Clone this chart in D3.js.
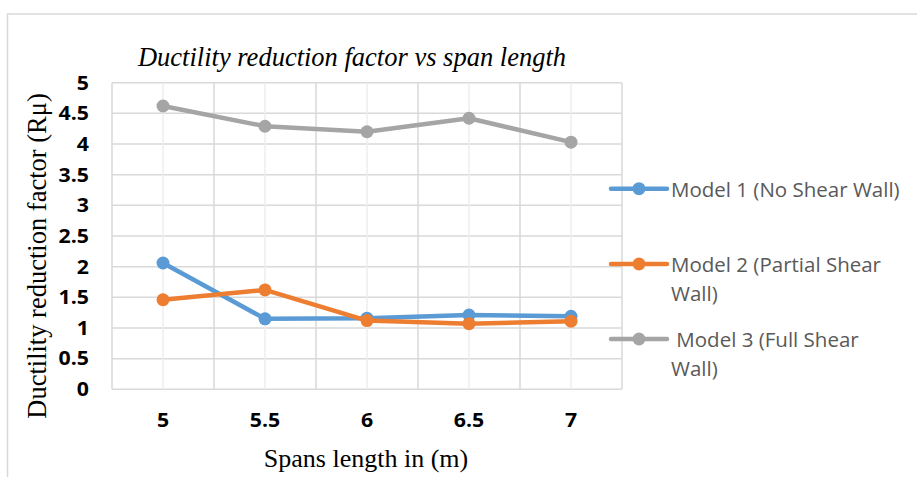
<!DOCTYPE html>
<html>
<head>
<meta charset="utf-8">
<script src="https://cdn.jsdelivr.net/npm/d3@7"></script>
<style>
  body { margin: 0; background: #fff; }
</style>
</head>
<body>
<svg width="917" height="477"></svg>
<script>
// data
var spans = ["5", "5.5", "6", "6.5", "7"];
var model1 = [2.06, 1.15, 1.16, 1.21, 1.19];
var model2 = [1.46, 1.62, 1.12, 1.07, 1.11];
var model3 = [4.62, 4.29, 4.2, 4.42, 4.03];
var yTicks = [0, 0.5, 1, 1.5, 2, 2.5, 3, 3.5, 4, 4.5, 5];

var series = [
  {name: "Model 1 (No Shear Wall)", lines: ["Model 1 (No Shear Wall)"], values: model1, color: "#5B9BD5"},
  {name: "Model 2 (Partial Shear Wall)", lines: ["Model 2 (Partial Shear", "Wall)"], values: model2, color: "#ED7D31"},
  {name: "Model 3 (Full Shear Wall)", lines: ["\u00a0Model 3 (Full Shear", "Wall)"], values: model3, color: "#A5A5A5"}
];

var svg = d3.select("svg");
var tickFont = "'Open Sans', 'Noto Sans', sans-serif";
var serifFont = "'Liberation Serif', 'DejaVu Serif', serif";

// outer chart frame
svg.append("rect")
    .attr("x", 7.5).attr("y", 14)
    .attr("width", 930).attr("height", 500)
    .attr("fill", "none").attr("stroke", "#d9d9d9").attr("stroke-width", 1.5);

var plot = {left: 112, right: 622, top: 82.7, bottom: 389.3};

var x = d3.scaleBand().domain(spans).range([plot.left, plot.right]);
var y = d3.scaleLinear().domain([0, 5]).range([plot.bottom, plot.top]);
var cx = function(d) { return x(d) + x.bandwidth() / 2; };

var grid = svg.append("g");

// horizontal gridlines
grid.selectAll("line.h")
    .data(yTicks)
    .enter().append("line")
      .attr("x1", plot.left).attr("x2", plot.right)
      .attr("y1", function(d) { return y(d); })
      .attr("y2", function(d) { return y(d); })
      .attr("stroke", "#d9d9d9").attr("stroke-width", 1.5);

// vertical lines at band edges (darker) and centers (lighter)
var edges = spans.map(function(d) { return x(d); }).concat([plot.right]);
grid.selectAll("line.e")
    .data(edges)
    .enter().append("line")
      .attr("x1", function(d) { return d; }).attr("x2", function(d) { return d; })
      .attr("y1", plot.top).attr("y2", plot.bottom)
      .attr("stroke", "#d9d9d9").attr("stroke-width", 1.5);

grid.selectAll("line.c")
    .data(spans)
    .enter().append("line")
      .attr("x1", cx).attr("x2", cx)
      .attr("y1", plot.top).attr("y2", plot.bottom)
      .attr("stroke", "#eeeeee").attr("stroke-width", 1.5);

// y tick labels
svg.append("g")
    .attr("font-family", tickFont).attr("font-weight", "bold").attr("font-size", 19)
  .selectAll("text")
    .data(yTicks)
    .enter().append("text")
      .attr("transform", function(d) { return "translate(89," + y(d) + ") scale(1.12,1)"; })
      .attr("dy", "0.36em")
      .attr("text-anchor", "end")
      .text(function(d) { return d; });

// x tick labels
svg.append("g")
    .attr("font-family", tickFont).attr("font-weight", "bold").attr("font-size", 19)
  .selectAll("text")
    .data(spans)
    .enter().append("text")
      .attr("transform", function(d) { return "translate(" + cx(d) + ",420) scale(1.12,1)"; })
      .attr("dy", "0.36em")
      .attr("text-anchor", "middle")
      .text(function(d) { return d; });

// titles
svg.append("text")
    .attr("x", 352).attr("y", 66)
    .attr("text-anchor", "middle")
    .attr("font-family", serifFont).attr("font-style", "italic").attr("font-size", 26.5)
    .text("Ductility reduction factor vs span length");

svg.append("text")
    .attr("x", 366).attr("y", 467)
    .attr("text-anchor", "middle")
    .attr("font-family", serifFont).attr("font-size", 26)
    .text("Spans length in (m)");

svg.append("text")
    .attr("transform", "translate(46,256) rotate(-90)")
    .attr("text-anchor", "middle")
    .attr("font-family", serifFont).attr("font-size", 26.5)
    .text("Ductility reduction factor (R\u03bc)");

// series lines and markers
var line = d3.line()
    .x(function(d, i) { return cx(spans[i]); })
    .y(function(d) { return y(d); });

var s = svg.append("g").selectAll("g")
    .data(series)
    .enter().append("g");

s.append("path")
    .attr("d", function(d) { return line(d.values); })
    .attr("fill", "none")
    .attr("stroke", function(d) { return d.color; })
    .attr("stroke-width", 4.5)
    .attr("stroke-linejoin", "round")
    .attr("stroke-linecap", "round");

s.selectAll("circle")
    .data(function(d) { return d.values.map(function(v, i) { return {v: v, i: i, color: d.color}; }); })
    .enter().append("circle")
      .attr("cx", function(d) { return cx(spans[d.i]); })
      .attr("cy", function(d) { return y(d.v); })
      .attr("r", 6.5)
      .attr("fill", function(d) { return d.color; });

// legend
var legendY = [188.7, 264, 339];
var lg = svg.append("g").selectAll("g")
    .data(series)
    .enter().append("g")
      .attr("transform", function(d, i) { return "translate(0," + legendY[i] + ")"; });

lg.append("line")
    .attr("x1", 611).attr("x2", 667)
    .attr("stroke", function(d) { return d.color; })
    .attr("stroke-width", 4.5).attr("stroke-linecap", "round");

lg.append("circle")
    .attr("cx", 639).attr("r", 6.5)
    .attr("fill", function(d) { return d.color; });

lg.selectAll("text")
    .data(function(d) { return d.lines; })
    .enter().append("text")
      .attr("x", 671)
      .attr("y", function(d, i) { return 1 + i * 29; })
      .attr("dy", "0.36em")
      .attr("font-family", tickFont).attr("font-size", 20.5)
      .attr("fill", "#595959")
      .text(function(d) { return d; });
</script>
</body>
</html>
